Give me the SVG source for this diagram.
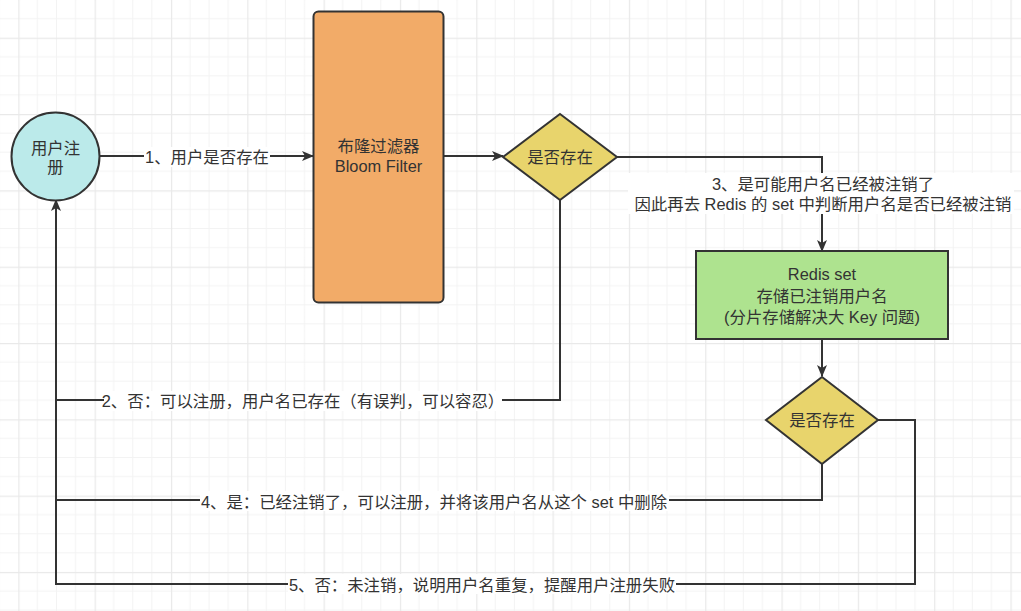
<svg xmlns="http://www.w3.org/2000/svg" width="1021" height="611" viewBox="0 0 1021 611">
<defs>
<pattern id="grid" patternUnits="userSpaceOnUse" x="18.3" y="37.7" width="76.32" height="76.32">
<path d="M19.08 0V76.32M38.16 0V76.32M57.24 0V76.32M0 19.08H76.32M0 38.16H76.32M0 57.24H76.32" stroke="#f3f3f3" stroke-width="1" fill="none"/>
<path d="M0.5 0V76.32M0 0.5H76.32" stroke="#e9e9e9" stroke-width="1.5" fill="none"/>
</pattern>
<marker id="arr" markerWidth="12" markerHeight="10" refX="11" refY="5" orient="auto" markerUnits="userSpaceOnUse">
<path d="M0 0L12 5L0 10L3 5Z" fill="#333"/>
</marker>
</defs>
<style>
.t{font-family:"Liberation Sans","Noto Sans CJK SC",sans-serif;font-size:16.4px;fill:#333;text-anchor:middle}
.e{fill:none;stroke:#333;stroke-width:2}
.n{stroke:#333;stroke-width:2}
.bg{fill:#fff}
</style>
<rect width="1021" height="611" fill="#fff"/>
<rect width="1021" height="611" fill="url(#grid)"/>

<g id="connectors">
<path class="e" d="M100 156H313" marker-end="url(#arr)"/>
<path class="e" d="M443 156H503" marker-end="url(#arr)"/>
<path class="e" d="M617 157H822V251" marker-end="url(#arr)"/>
<path class="e" d="M560 200V400H56V200" marker-end="url(#arr)"/>
<path class="e" d="M822 339V376" marker-end="url(#arr)"/>
<path class="e" d="M822 464V500H56V400"/>
<path class="e" d="M878 420H915V584H56V400"/>
<rect class="bg" x="144" y="147" width="126" height="20"/>
<text class="t" x="207" y="162.5">1、用户是否存在</text>
<rect class="bg" x="104" y="391" width="398" height="20"/>
<text class="t" x="303" y="406.5">2、否：可以注册，用户名已存在（有误判，可以容忍）</text>
<rect class="bg" x="628" y="173" width="386" height="41"/>
<text class="t" x="823" y="190">3、是可能用户名已经被注销了</text>
<text class="t" x="823" y="209.5">因此再去 Redis 的 set 中判断用户名是否已经被注销</text>
<rect class="bg" x="200" y="491" width="469" height="20"/>
<text class="t" x="434" y="507.5">4、是：已经注销了，可以注册，并将该用户名从这个 set 中删除</text>
<rect class="bg" x="288" y="574" width="388" height="20"/>
<text class="t" x="482" y="590.5">5、否：未注销，说明用户名重复，提醒用户注册失败</text>
</g>

<g id="user-register">
<circle class="n" cx="55.5" cy="156.5" r="44" fill="#bbeaea"/>
<text class="t" x="55.5" y="153.5">用户注</text>
<text class="t" x="55.5" y="172.5">册</text>
</g>

<g id="bloom-filter">
<rect class="n" x="313.5" y="11.5" width="130" height="291" rx="5" fill="#f2ab68"/>
<text class="t" x="378.5" y="152">布隆过滤器</text>
<text class="t" x="378.5" y="171.5">Bloom Filter</text>
</g>

<g id="exists-1">
<path class="n" d="M560 114L617 157L560 200L503 157Z" fill="#e8d46c"/>
<text class="t" x="560" y="162.5">是否存在</text>
</g>

<g id="redis-set">
<rect class="n" x="696" y="251" width="252" height="88" fill="#aee38f"/>
<text class="t" x="822" y="279.5">Redis set</text>
<text class="t" x="822" y="301.5">存储已注销用户名</text>
<text class="t" x="822" y="322.5">(分片存储解决大 Key 问题)</text>
</g>

<g id="exists-2">
<path class="n" d="M822 377L878 420L822 464L766 420Z" fill="#e8d46c"/>
<text class="t" x="822" y="426">是否存在</text>
</g>
</svg>
